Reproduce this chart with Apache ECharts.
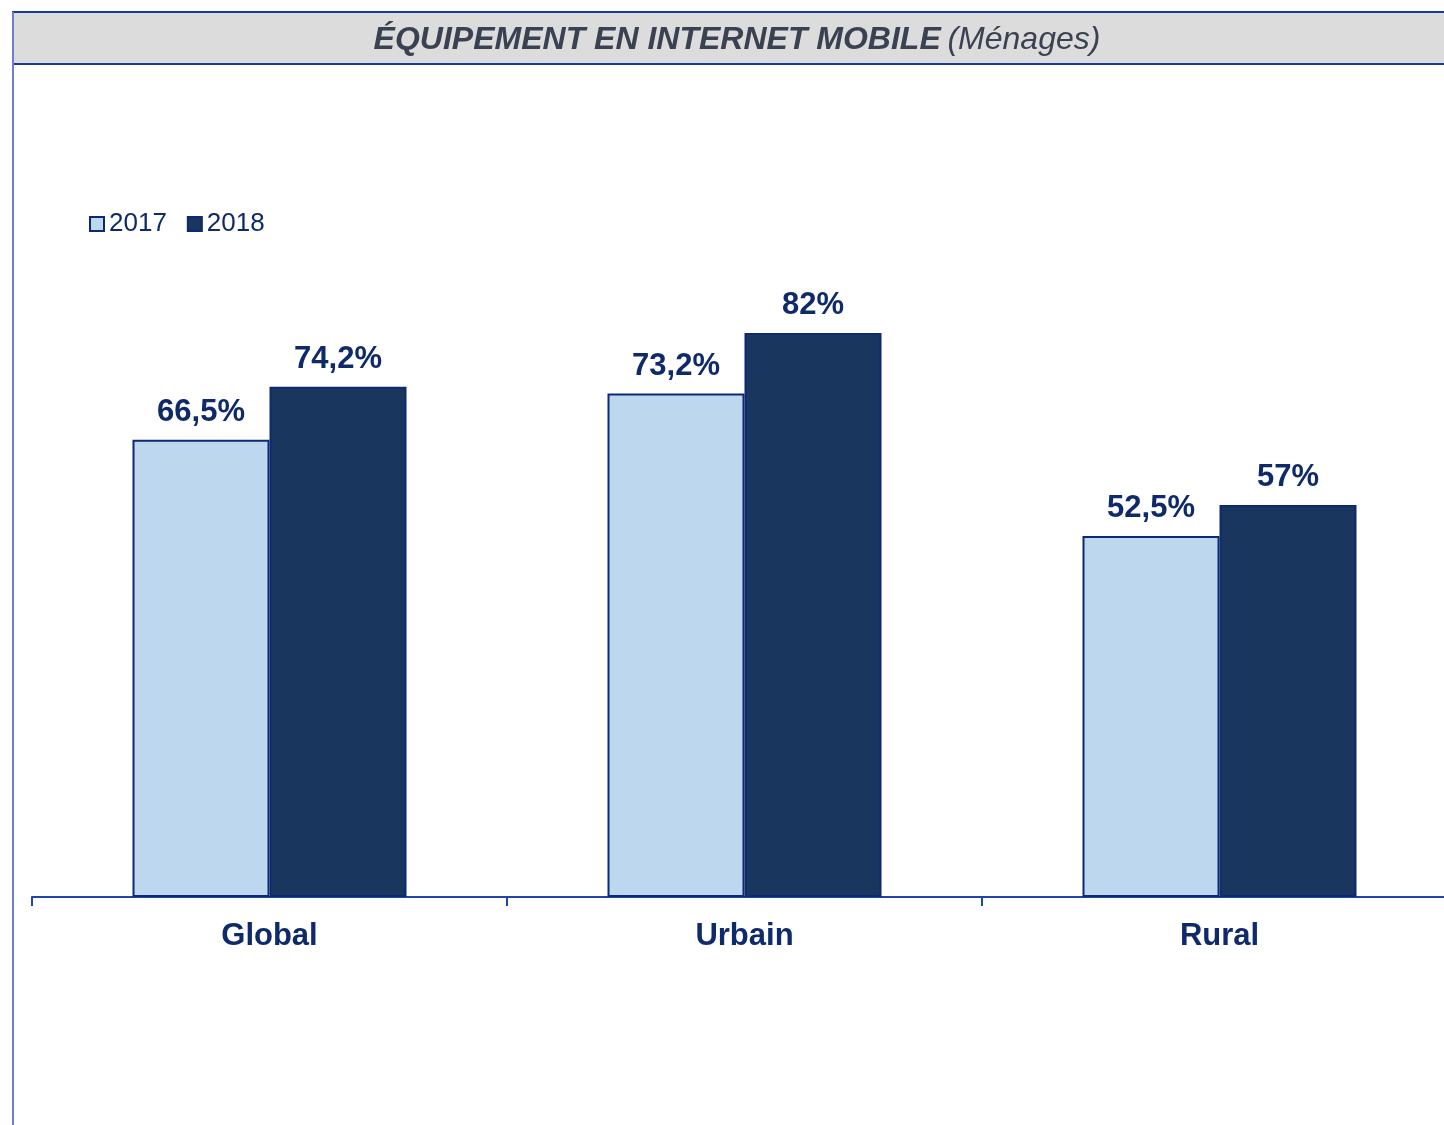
<!DOCTYPE html>
<html><head><meta charset="utf-8">
<script src="https://cdn.jsdelivr.net/npm/echarts@6/dist/echarts.min.js"></script>
<style>html,body{margin:0;padding:0;background:#fff;overflow:hidden}#c{width:1457px;height:1125px}</style>
</head><body><div id="c"></div>
<script>
const categories = ['Global', 'Urbain', 'Rural'];
const seriesNames = ['2017', '2018'];
const values2017 = [66.5, 73.2, 52.5];
const values2018 = [74.2, 82, 57];
const labels2017 = ['66,5%', '73,2%', '52,5%'];
const labels2018 = ['74,2%', '82%', '57%'];

const chart = echarts.init(document.getElementById('c'));
const navy = '#0e2a6a';
const font = '"Liberation Sans", Arial, sans-serif';
function mk(name, vals, labs, color) {
  return {
    name: name, type: 'bar', data: vals, barWidth: 137, barGap: '0%',
    itemStyle: { color: color, borderColor: '#0d2a70', borderWidth: 2 },
    label: { show: true, position: 'top', distance: 12, color: navy, fontFamily: font, fontWeight: 'bold', fontSize: 31,
      formatter: p => labs[p.dataIndex] }
  };
}
chart.setOption({
  animation: false,
  graphic: [
    { type: 'rect', shape: { x: 12, y: 12, width: 1450, height: 52 }, style: { fill: '#dcdcdc', stroke: null }, z: 0 },
    { type: 'line', shape: { x1: 12, y1: 12, x2: 1457, y2: 12 }, style: { stroke: '#1a3a9a', lineWidth: 2 } },
    { type: 'line', shape: { x1: 12, y1: 64, x2: 1457, y2: 64 }, style: { stroke: '#1a3a9a', lineWidth: 2 } },
    { type: 'line', shape: { x1: 13, y1: 12, x2: 13, y2: 1125 }, style: { stroke: '#7080c8', lineWidth: 2 } },
    { type: 'text', x: 737, y: 40, style: {
      text: '{b|ÉQUIPEMENT EN INTERNET MOBILE}  {n|(Ménages)}',
      align: 'center', verticalAlign: 'middle',
      rich: {
        b: { fontFamily: font, fontSize: 32, fontWeight: 'bold', fontStyle: 'italic', fill: '#3a4150' },
        n: { fontFamily: font, fontSize: 32, fontStyle: 'italic', fill: '#3a4150' }
      } } }
  ],
  legend: {
    left: 84, top: 206, itemWidth: 14, itemHeight: 14, itemGap: 20,
    icon: 'rect',
    textStyle: { color: navy, fontFamily: font, fontSize: 26, padding: [0, 0, 0, 0] },
    data: seriesNames
  },
  grid: { left: 32, right: 0, top: 209.3, bottom: 228, containLabel: false },
  xAxis: {
    type: 'category', data: categories,
    axisLine: { lineStyle: { color: '#1f45a8', width: 2 } },
    axisTick: { show: true, length: 9, lineStyle: { color: '#1f45a8', width: 2 } },
    axisLabel: { color: navy, fontFamily: font, fontWeight: 'bold', fontSize: 31, margin: 24 }
  },
  yAxis: { type: 'value', min: 0, max: 100, show: false, splitLine: { show: false } },
  series: [
    mk(seriesNames[0], values2017, labels2017, '#bdd7ee'),
    mk(seriesNames[1], values2018, labels2018, '#19365e')
  ]
});
</script></body></html>
